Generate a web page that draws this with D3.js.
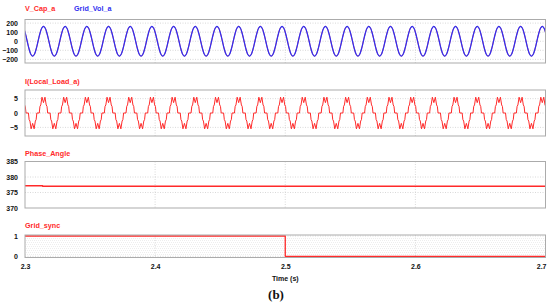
<!DOCTYPE html>
<html><head><meta charset="utf-8">
<script src="https://cdn.jsdelivr.net/npm/d3@7"></script>
<style>
html,body{margin:0;padding:0;background:#fff;}
svg{display:block;font-family:"Liberation Sans",Arial,sans-serif;}
</style></head>
<body>
<svg id="chart" width="550" height="304"></svg>
<script>
// ---------------- data ----------------
const timeDomain = [2.3, 2.7];
const xTickValues = [2.3, 2.4, 2.5, 2.6, 2.7];
const xAxisTitle = "Time (s)";
const figureLabel = "(b)";

// waveforms are periodic: fundamental 60 Hz, first voltage peak at t = 2.3142 s
const lineFrequency = 60;
const firstPeakTime = 2.3142;

// one period of the voltages, sampled every 30° starting at the positive peak
const voltPhaseDeg = [0, 30, 60, 90, 120, 150, 180, 210, 240, 270, 300, 330];
const vCapCycle    = [165, 143, 83, 0, -83, -143, -165, -143, -83, 0, 83, 143];
const gridVolCycle = [165, 143, 83, 0, -83, -143, -165, -143, -83, 0, 83, 143];

// one period of the load current (phase relative to the voltage peak)
const curPhaseDeg  = [-70, -58, -45, -25, 0, 25, 45, 58, 70, 110, 122, 135, 155, 180, 205, 225, 238, 250];
const loadCurCycle = [0, 2.3, 2.8, 5.5, 3.6, 5.5, 2.8, 2.3, 0, 0, -2.3, -2.8, -5.5, -3.6, -5.5, -2.8, -2.3, 0];

// phase angle (rad/s)
const phaseTimes  = [2.3, 2.3135, 2.3135, 2.7];
const phaseValues = [377.2, 377.2, 377.0, 377.0];

// grid synchronisation flag
const syncTimes  = [2.3, 2.5, 2.5, 2.7];
const syncValues = [1, 1, 0, 0];

// tick labels
const ticksVolt  = [-200, -100, 0, 100, 200];
const ticksCur   = [-5, 0, 5];
const ticksPhase = [370, 375, 380, 385];
const ticksSync  = [0, 1];
const syncMinorGrid = [0.1, 0.2, 0.3, 0.4, 0.5, 0.6, 0.7, 0.8, 0.9];

// ---------------- layout ----------------
const L = 25, R = 545.5;
const RED = "#ff2a2a", BLUE = "#3030f0";
const svg = d3.select("#chart");
const x = d3.scaleLinear().domain(timeDomain).range([L, R]);

function tile(phases, cycle) {
  const pts = [];
  for (let k = -1; k <= 25; k++) {
    phases.forEach((d, i) => {
      const t = firstPeakTime + (k + d / 360) / lineFrequency;
      if (t >= timeDomain[0] - 0.02 && t <= timeDomain[1] + 0.02) pts.push([t, cycle[i]]);
    });
  }
  return pts;
}

const panels = [
  { top: 19.5, bottom: 63, domain: [-240, 240], ticks: ticksVolt, grid: ticksVolt, minor: [],
    titles: [{ text: "V_Cap_a", color: RED, x: 25 }, { text: "Grid_Vol_a", color: BLUE, x: 74 }], titleY: 10.5,
    series: [
      { pts: tile(voltPhaseDeg, vCapCycle), color: RED, w: 0.8, curve: d3.curveCatmullRom },
      { pts: tile(voltPhaseDeg, gridVolCycle), color: BLUE, w: 1.25, curve: d3.curveCatmullRom }
    ] },
  { top: 90, bottom: 136, domain: [-8, 8], ticks: ticksCur, grid: ticksCur, minor: [],
    titles: [{ text: "I(Local_Load_a)", color: RED, x: 25 }], titleY: 84,
    series: [{ pts: tile(curPhaseDeg, loadCurCycle), color: RED, w: 1, curve: d3.curveLinear }] },
  { top: 161.5, bottom: 208, domain: [370, 385], ticks: ticksPhase, grid: [375, 380], minor: [],
    titles: [{ text: "Phase_Angle", color: RED, x: 25 }], titleY: 156,
    series: [{ pts: phaseTimes.map((t, i) => [t, phaseValues[i]]), color: RED, w: 1.5, curve: d3.curveLinear }] },
  { top: 235, bottom: 257.5, domain: [-0.06, 1.05], ticks: ticksSync, grid: [0, 1], minor: syncMinorGrid,
    titles: [{ text: "Grid_sync", color: RED, x: 25 }], titleY: 227.5,
    series: [{ pts: syncTimes.map((t, i) => [t, syncValues[i]]), color: RED, w: 1.3, curve: d3.curveLinear }] }
];

panels.forEach((p, pi) => {
  const y = d3.scaleLinear().domain(p.domain).range([p.bottom, p.top]);
  const g = svg.append("g");
  const cid = "clip" + pi;
  svg.append("clipPath").attr("id", cid).append("rect")
    .attr("x", L).attr("y", p.top).attr("width", R - L).attr("height", p.bottom - p.top);

  // grid
  g.selectAll(".mg").data(p.minor).join("line")
    .attr("x1", L).attr("x2", R).attr("y1", d => Math.round(y(d)) + 0.5).attr("y2", d => Math.round(y(d)) + 0.5)
    .attr("stroke", "#e2e2e2").attr("stroke-width", 0.6).attr("stroke-dasharray", "1,1")
    .attr("stroke-dashoffset", (d, i) => i % 2);
  g.selectAll(".hg").data(p.grid).join("line")
    .attr("x1", L).attr("x2", R).attr("y1", d => y(d)).attr("y2", d => y(d))
    .attr("stroke", "#cfcfcf").attr("stroke-width", 0.8).attr("stroke-dasharray", "1,1.5");
  g.selectAll(".vg").data(xTickValues.slice(1, -1)).join("line")
    .attr("x1", d => x(d)).attr("x2", d => x(d)).attr("y1", p.top).attr("y2", p.bottom)
    .attr("stroke", "#cfcfcf").attr("stroke-width", 0.8).attr("stroke-dasharray", "1,1.5");

  // series
  p.series.forEach(s => {
    g.append("path").datum(s.pts)
      .attr("clip-path", `url(#${cid})`)
      .attr("fill", "none").attr("stroke", s.color).attr("stroke-width", s.w)
      .attr("stroke-linejoin", "round")
      .attr("d", d3.line().x(d => x(d[0])).y(d => y(d[1])).curve(s.curve));
  });

  // frame
  g.append("rect").attr("x", L).attr("y", p.top).attr("width", R - L).attr("height", p.bottom - p.top)
    .attr("fill", "none").attr("stroke", "#ababab").attr("stroke-width", 1);

  // y axis labels
  const ax = d3.axisLeft(y).tickValues(p.ticks).tickSize(0).tickPadding(7).tickFormat(d3.format("~g"));
  const ag = svg.append("g").attr("transform", `translate(${L},0)`).call(ax);
  ag.select(".domain").remove();
  ag.selectAll("text").attr("font-size", 7).attr("font-weight", "bold").attr("fill", "#111")
    .attr("font-family", "Liberation Sans, Arial, sans-serif");

  // titles
  p.titles.forEach(t => {
    svg.append("text").attr("x", t.x).attr("y", p.titleY).text(t.text)
      .attr("font-size", 7.2).attr("font-weight", "bold").attr("fill", t.color);
  });

  if (pi === panels.length - 1) {
    const xa = d3.axisBottom(x).tickValues(xTickValues).tickSize(0).tickPadding(7).tickFormat(d3.format(".1f"));
    const xg = svg.append("g").attr("transform", `translate(0,${p.bottom})`).call(xa);
    xg.select(".domain").remove();
    xg.selectAll("text").attr("font-size", 7).attr("font-weight", "bold").attr("fill", "#111")
      .attr("font-family", "Liberation Sans, Arial, sans-serif");
    xg.selectAll(".tick").filter(d => d === xTickValues[xTickValues.length - 1])
      .select("text").attr("text-anchor", "end").attr("dx", 0.5);
    svg.append("text").attr("x", x(2.5)).attr("y", 281).attr("text-anchor", "middle")
      .attr("font-size", 7).attr("font-weight", "bold").attr("fill", "#111").text(xAxisTitle);
  }
});

svg.append("text").attr("x", 276).attr("y", 298.5).attr("text-anchor", "middle")
  .attr("font-family", "Liberation Serif, 'Times New Roman', serif")
  .attr("font-size", 13).attr("font-weight", "bold").attr("fill", "#111").text(figureLabel);
</script>
</body></html>
